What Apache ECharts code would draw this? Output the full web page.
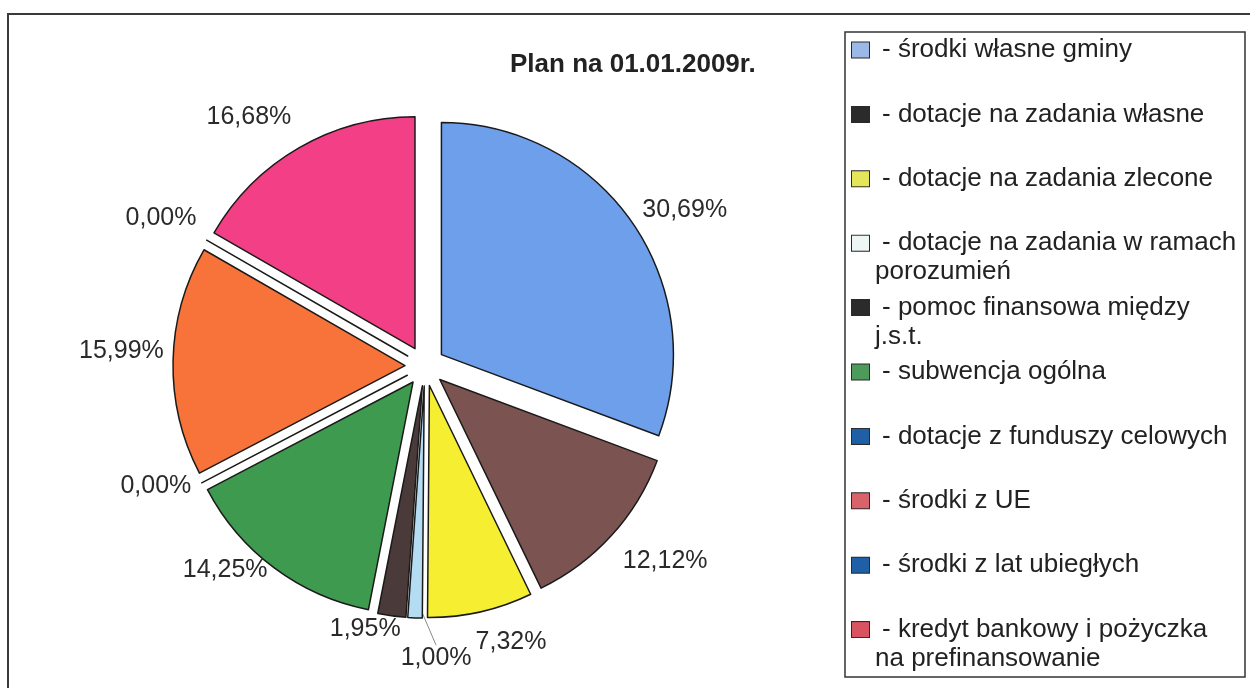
<!DOCTYPE html>
<html><head><meta charset="utf-8">
<script src="https://cdn.jsdelivr.net/npm/echarts@6/dist/echarts.min.js"></script>
<style>html,body{margin:0;padding:0;background:#fff}#c{width:1250px;height:688px}</style>
</head><body><div id="c"></div>
<script>
// ---- data ----
const titleText = 'Plan na 01.01.2009r.';
const categories = [
  'środki własne gminy',
  'dotacje na zadania własne',
  'dotacje na zadania zlecone',
  'dotacje na zadania w ramach\nporozumień',
  'pomoc finansowa między\nj.s.t.',
  'subwencja ogólna',
  'dotacje z funduszy celowych',
  'środki z UE',
  'środki z lat ubiegłych',
  'kredyt bankowy i pożyczka\nna prefinansowanie'
];
const shares = [30.69, 12.12, 7.32, 1.00, 1.95, 14.25, 0.00, 15.99, 0.00, 16.68];

// ---- styles / layout ----
const sliceColors = ['#6e9fea', '#7b5350', '#f6ee30', '#b4dcf2', '#4b3a3a', '#3e9a4f', '#d2475a', '#f7733a', '#d2475a', '#f23f86'];
const legendColors = ['#9cb8e6', '#2b2b2b', '#e4e65a', '#eef5f5', '#2b2b2b', '#4e9a5c', '#1f5fa6', '#d8636b', '#1f5fa6', '#d9525f'];
const PIE_CX = 425, PIE_CY = 366, PIE_R = 232, EXPLODE = 20, LABEL_GAP = 10;
const labelNudge = [[10, 17], [17, -8], [24, 1], [22, 16], [-23, -14], [-22, -34], [-4, -19], [1, -9], [-5, 1], [-29, 6]];
const FONT = 'Liberation Sans, Arial, sans-serif';

const total = shares.reduce((s, v) => s + v, 0);
const midAngle = [];
let acc = 0;
shares.forEach(v => { midAngle.push((acc + v / 2) / total * 360); acc += v; });

const rich = {
  t: { fontSize: 26, fontFamily: FONT, color: '#222', lineHeight: 29 },
  g: { width: 13 },
  i: { width: 23 }
};
legendColors.forEach((c, k) => {
  rich['sw' + k] = { width: 17, height: 15, backgroundColor: c, borderColor: '#2a2a2a', borderWidth: 1 };
});

const chart = echarts.init(document.getElementById('c'), null, { renderer: 'canvas' });
chart.setOption({
  animation: false,
  backgroundColor: '#fff',
  title: {
    text: titleText, left: 510, top: 52, padding: 0,
    textStyle: { fontFamily: FONT, fontSize: 26, fontWeight: 'bold', color: '#222' }
  },
  graphic: [
    { type: 'rect', z: 0, shape: { x: 8, y: 14, width: 1262, height: 700 }, style: { fill: 'none', stroke: '#3a3a3a', lineWidth: 2 } },
    { type: 'rect', z: 0, shape: { x: 845, y: 32, width: 400, height: 645 }, style: { fill: 'none', stroke: '#333', lineWidth: 1.5 } }
  ],
  legend: {
    orient: 'vertical', left: 847, top: 35.5, padding: 0,
    icon: 'none', itemWidth: 0, itemHeight: 2, itemGap: 6.4,
    data: categories,
    formatter: function (name) {
      const k = categories.indexOf(name);
      const lines = name.split('\n');
      return '{sw' + k + '|}{g|}{t|- ' + lines[0] + '}\n' + (lines[1] ? '{i|}{t|' + lines[1] + '}' : '{t| }');
    },
    textStyle: { fontFamily: FONT, fontSize: 26, color: '#222', lineHeight: 29, rich: rich }
  },
  series: [{
    // exploded slices
    type: 'pie',
    center: [PIE_CX, PIE_CY],
    radius: PIE_R,
    startAngle: 90,
    clockwise: true,
    selectedMode: 'multiple',
    selectedOffset: EXPLODE,
    emphasis: { disabled: true },
    itemStyle: { borderColor: '#1a1a1a', borderWidth: 1.5 },
    select: { itemStyle: { borderColor: '#1a1a1a', borderWidth: 1.5 } },
    label: { show: false },
    labelLine: { show: false },
    data: categories.map((name, k) => ({
      name: name, value: shares[k], selected: true,
      itemStyle: { color: sliceColors[k] }
    }))
  }, {
    // percentage labels (same slices, invisible, not exploded)
    type: 'pie',
    center: [PIE_CX, PIE_CY],
    radius: PIE_R,
    startAngle: 90,
    clockwise: true,
    silent: true,
    selectedMode: false,
    avoidLabelOverlap: false,
    emphasis: { disabled: true },
    itemStyle: { color: 'rgba(0,0,0,0)', borderWidth: 0 },
    label: {
      show: true, position: 'outside',
      fontFamily: FONT, fontSize: 25, color: '#2a2a2a',
      formatter: p => p.value.toFixed(2).replace('.', ',') + '%'
    },
    labelLine: { show: false, length: 10, length2: 0, lineStyle: { color: '#8a8a8a', width: 1 } },
    labelLayout: function (p) {
      const k = p.dataIndex;
      const a = midAngle[k] * Math.PI / 180;
      const dx = Math.sin(a), dy = -Math.cos(a);
      const w = p.labelRect.width, h = p.labelRect.height;
      const r = PIE_R + EXPLODE + LABEL_GAP + Math.abs(dx) * w / 2 + Math.abs(dy) * h / 2;
      return { x: PIE_CX + dx * r + labelNudge[k][0], y: PIE_CY + dy * r + labelNudge[k][1], align: 'center', verticalAlign: 'middle' };
    },
    data: categories.map((name, k) => ({
      name: name, value: shares[k],
      labelLine: k === 3 ? { show: true } : undefined
    }))
  }]
});
</script></body></html>
